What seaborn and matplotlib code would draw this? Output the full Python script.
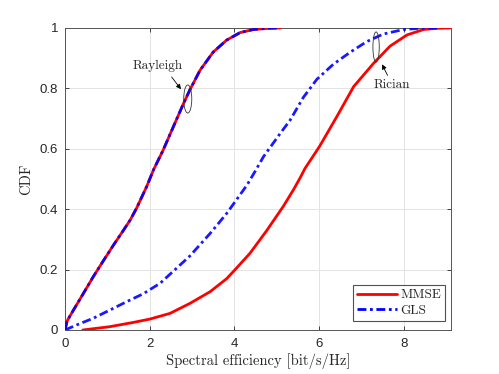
import matplotlib
matplotlib.use("Agg")
import matplotlib.pyplot as plt
from matplotlib.patches import Ellipse
from matplotlib.lines import Line2D
import seaborn as sns
import pandas as pd

# ---- data ----
rayleigh_x = [0, 0.05, 0.2, 0.43, 0.67, 0.91, 1.14, 1.38, 1.54, 1.69, 1.93, 2.09,
              2.32, 2.56, 2.8, 2.95, 3.19, 3.5, 3.82, 4.14, 4.45, 4.8, 5.08]
rayleigh_mmse = [0, 0.03, 0.066, 0.12, 0.177, 0.23, 0.28, 0.33, 0.364, 0.403, 0.475,
                 0.53, 0.596, 0.673, 0.75, 0.795, 0.86, 0.92, 0.96, 0.985, 0.995, 0.999, 1.0]
rayleigh_gls = [0, 0.03, 0.066, 0.12, 0.177, 0.23, 0.28, 0.33, 0.364, 0.403, 0.475,
                0.53, 0.596, 0.673, 0.75, 0.795, 0.86, 0.92, 0.96, 0.985, 0.995, 0.999, 1.0]

rician_gls_x = [0, 0.28, 0.67, 1.06, 1.46, 1.85, 2.25, 2.6, 2.95, 3.43, 3.82, 4.02, 4.3,
                4.49, 4.69, 5.08, 5.32, 5.63, 5.95, 6.34, 6.74, 7.13, 7.52, 8.0, 8.47, 8.79]
rician_gls = [0, 0.017, 0.039, 0.066, 0.094, 0.12, 0.155, 0.2, 0.245, 0.32, 0.386, 0.425,
              0.48, 0.525, 0.574, 0.65, 0.695, 0.77, 0.83, 0.88, 0.92, 0.955, 0.98, 0.995,
              1.0, 1.0]

rician_mmse_x = [0.42, 1.06, 1.61, 2.0, 2.48, 2.95, 3.43, 3.82, 4.02, 4.37, 4.77, 5.16,
                 5.4, 5.56, 5.67, 6.01, 6.42, 6.82, 7.29, 7.68, 8.08, 8.47, 8.8, 9.1]
rician_mmse = [0, 0.011, 0.025, 0.036, 0.055, 0.088, 0.127, 0.17, 0.2, 0.254, 0.33, 0.41,
               0.465, 0.505, 0.535, 0.607, 0.706, 0.806, 0.883, 0.94, 0.977, 0.995, 0.999, 1.0]

x_ticks = [0, 2, 4, 6, 8]
y_ticks = [0, 0.2, 0.4, 0.6, 0.8, 1]
y_tick_labels = ["0", "0.2", "0.4", "0.6", "0.8", "1"]
legend_labels = ["MMSE", "GLS"]

sns.set_theme(style="white")
plt.rcParams["font.family"] = ["Liberation Sans", "DejaVu Sans"]
plt.rcParams["axes.unicode_minus"] = False

fig = plt.figure(figsize=(4.99, 3.74), dpi=100)
ax = fig.add_axes([65 / 499, 1 - 330 / 374, (451 - 65) / 499, (330 - 28) / 374])

RED = "#ff0000"
BLUE = "#0000ff"
LW = 2.0
DASH = (3.2, 1.3, 1.0, 1.3)

df_rm = pd.DataFrame({"x": rician_mmse_x, "y": rician_mmse})
df_rg = pd.DataFrame({"x": rician_gls_x, "y": rician_gls})
df_am = pd.DataFrame({"x": rayleigh_x, "y": rayleigh_mmse})
df_ag = pd.DataFrame({"x": rayleigh_x, "y": rayleigh_gls})

sns.lineplot(data=df_rm, x="x", y="y", ax=ax, color=RED, lw=LW, sort=False,
             estimator=None, zorder=3)
sns.lineplot(data=df_am, x="x", y="y", ax=ax, color=RED, lw=LW, sort=False,
             estimator=None, zorder=3)
sns.lineplot(data=df_rg, x="x", y="y", ax=ax, color=BLUE, lw=LW, sort=False,
             estimator=None, zorder=4)
sns.lineplot(data=df_ag, x="x", y="y", ax=ax, color=BLUE, lw=LW, sort=False,
             estimator=None, zorder=4)
for ln in ax.get_lines()[2:]:
    ln.set_dashes(DASH)
    ln.set_alpha(0.9)

ax.set_xlim(0, 9.12)
ax.set_ylim(0, 1)
ax.set_xticks(x_ticks)
ax.set_xticklabels([str(t) for t in x_ticks])
ax.set_yticks(y_ticks)
ax.set_yticklabels(y_tick_labels)
ax.tick_params(axis="both", direction="in", length=3, width=0.6, labelsize=9.5,
               colors="#262626", top=True, right=True, bottom=True, left=True, pad=5)
ax.tick_params(axis="x", pad=6)
ax.grid(True, color="#e3e3e3", lw=0.7)
ax.set_axisbelow(True)
for s in ax.spines.values():
    s.set_color("#555555")
    s.set_linewidth(0.7)

ax.set_xlabel("Spectral efficiency [bit/s/Hz]", family="cmr10", fontsize=10.5,
              color="#262626", labelpad=2)
ax.set_ylabel("CDF", family="cmr10", fontsize=10.5, color="#262626", labelpad=5)

# annotations
ax.add_patch(Ellipse((2.9, 0.765), 0.19, 0.093, fill=False, ec="#333333", lw=0.6, zorder=5))
ax.add_patch(Ellipse((7.35, 0.937), 0.15, 0.10, fill=False, ec="#333333", lw=0.6, zorder=5))
ax.text(2.2, 0.875, "Rayleigh", family="cmr10", fontsize=9.5, ha="center", va="center",
        color="#262626")
ax.annotate("", xy=(2.78, 0.79), xytext=(2.48, 0.845),
            arrowprops=dict(arrowstyle="-|>", color="black", lw=0.6,
                            mutation_scale=7))
ax.text(7.73, 0.81, "Rician", family="cmr10", fontsize=9.5, ha="center", va="center",
        color="#262626")
ax.annotate("", xy=(7.46, 0.888), xytext=(7.65, 0.835),
            arrowprops=dict(arrowstyle="-|>", color="black", lw=0.6,
                            mutation_scale=7))

handles = [Line2D([], [], color=RED, lw=LW),
           Line2D([], [], color=BLUE, lw=LW, dashes=DASH)]
leg = ax.legend(handles, legend_labels, loc="lower right", bbox_to_anchor=(0.985, 0.03),
                prop={"family": "cmr10", "size": 9.5}, frameon=True, fancybox=False,
                handlelength=3.0, handletextpad=0.3, borderpad=0.3, labelspacing=0.25,
                borderaxespad=0.0)
leg.get_frame().set_edgecolor("#262626")
leg.get_frame().set_linewidth(0.8)

fig.savefig("out.png", dpi=100)
